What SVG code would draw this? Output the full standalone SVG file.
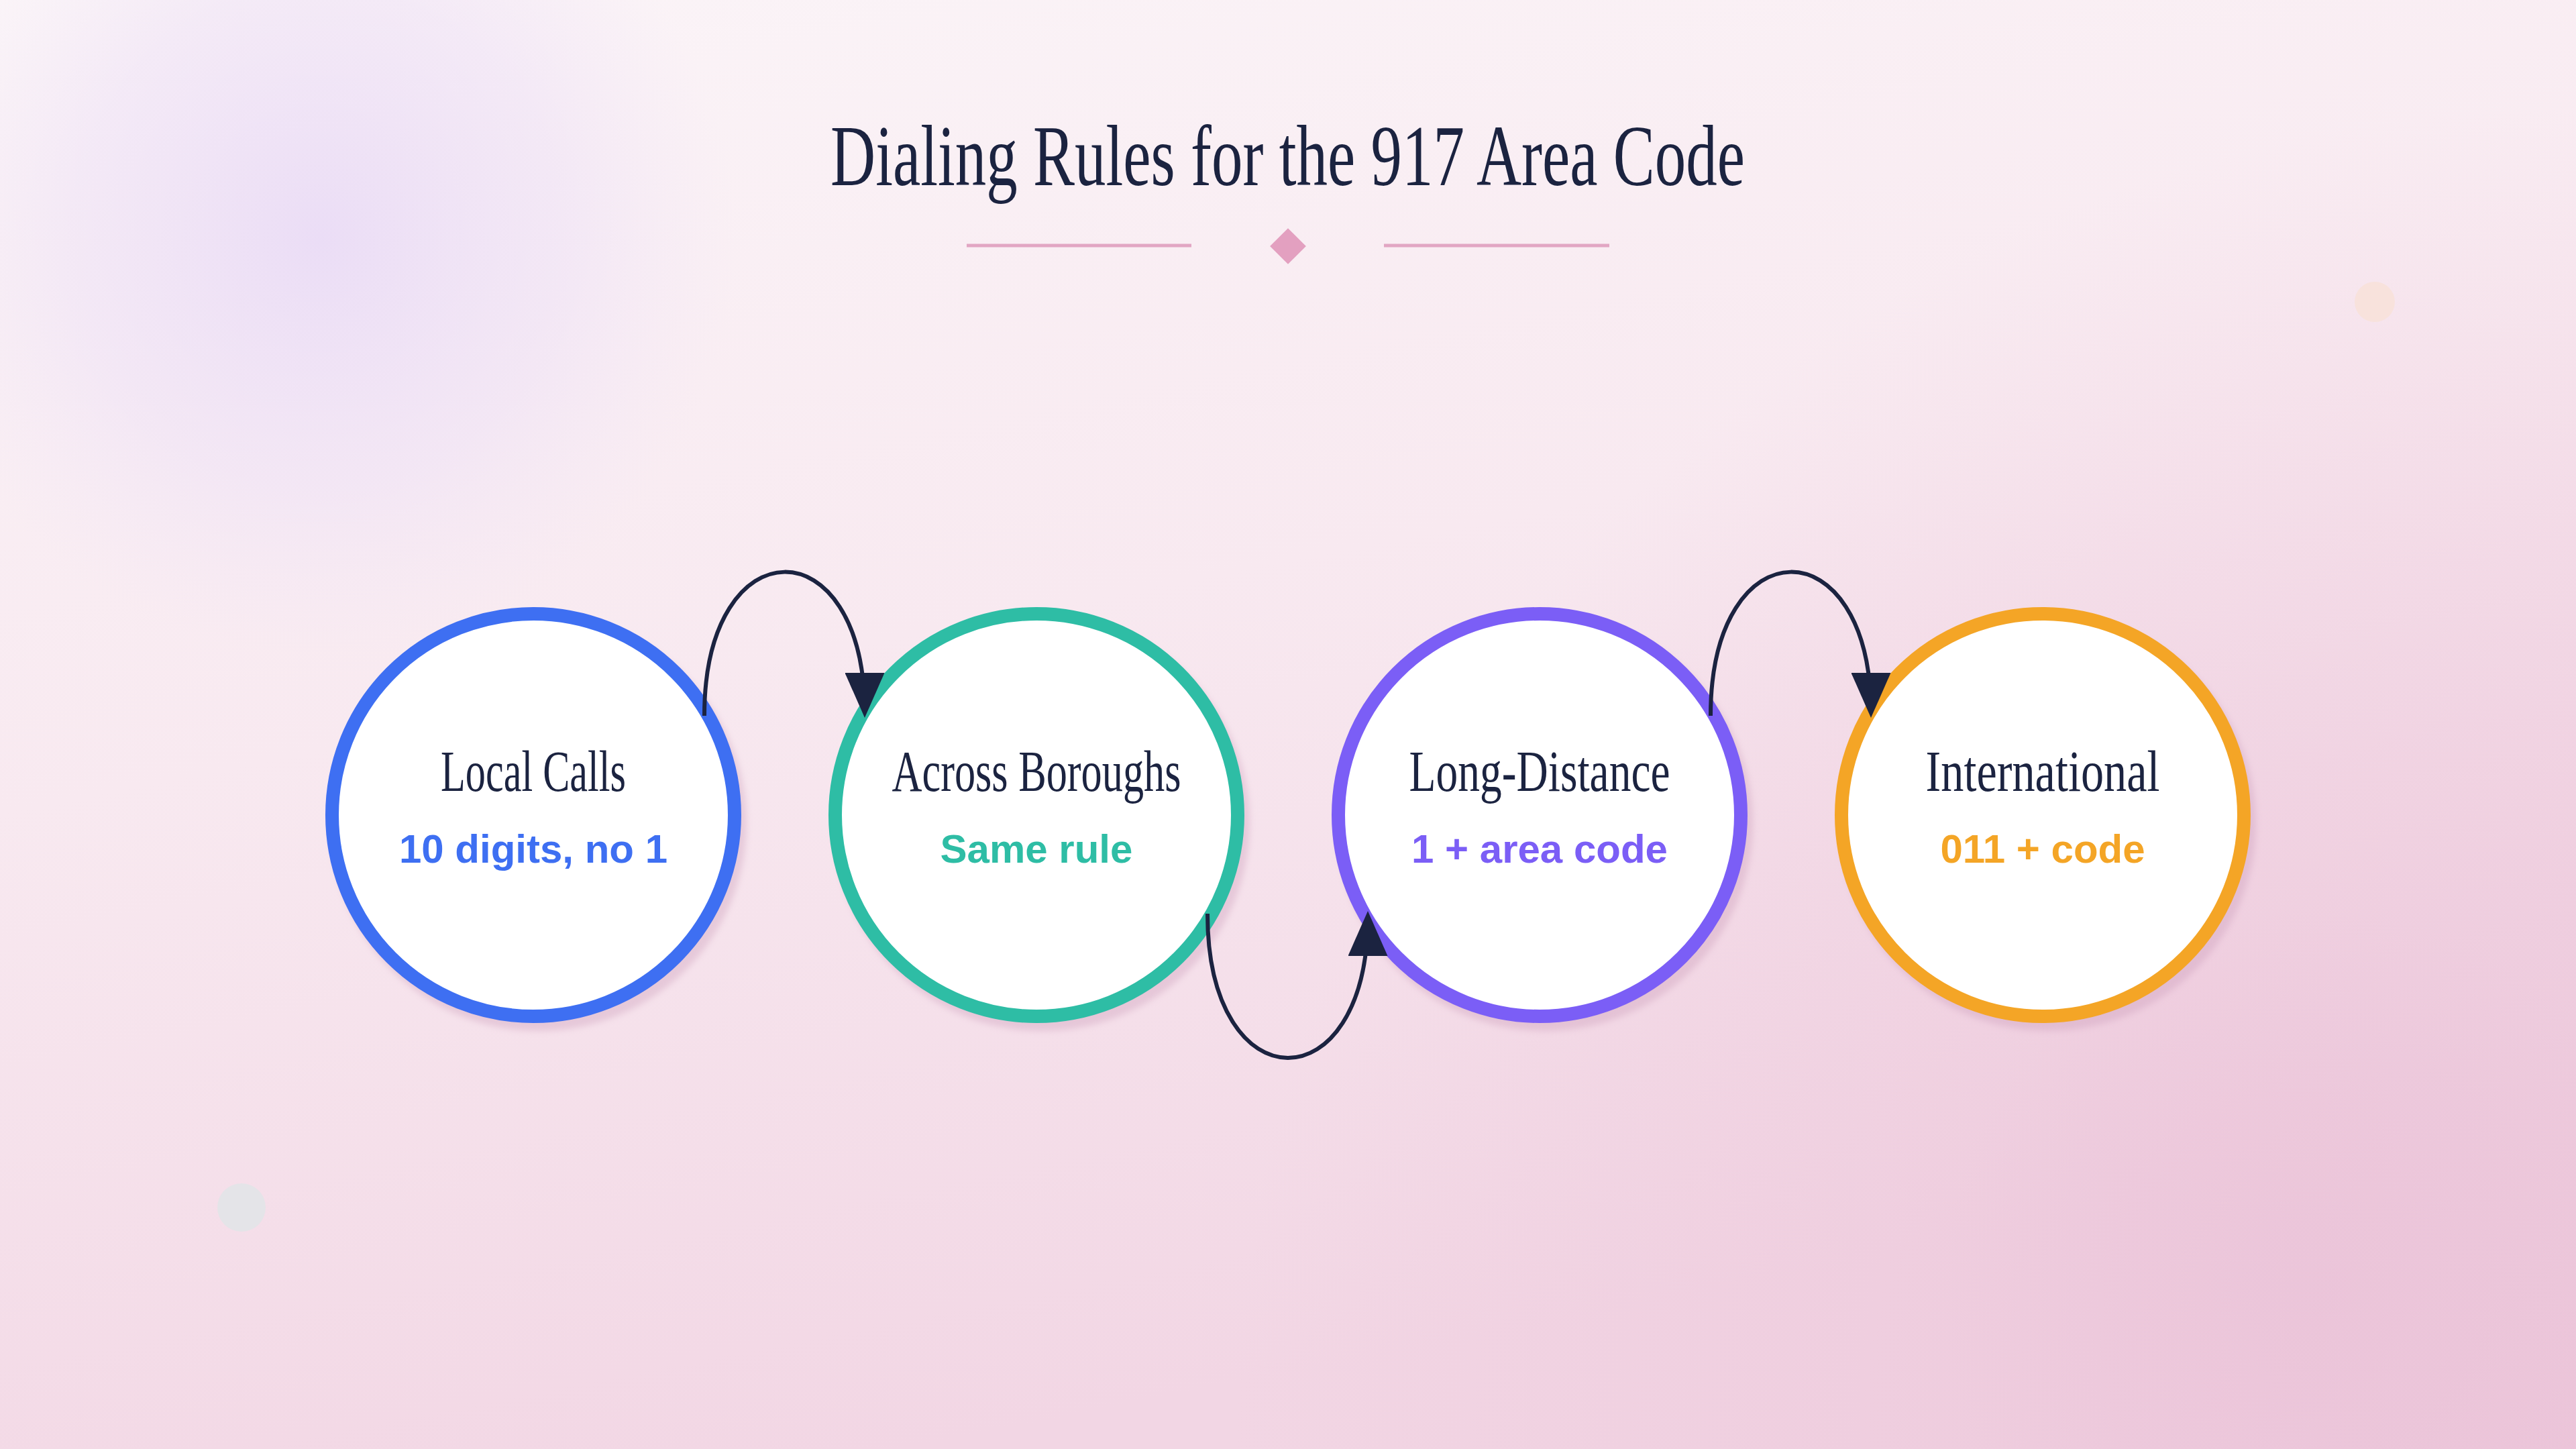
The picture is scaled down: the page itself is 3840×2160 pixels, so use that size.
<svg xmlns="http://www.w3.org/2000/svg" width="3840" height="2160" viewBox="0 0 3840 2160">
  <defs>
    <linearGradient id="bg" x1="0" y1="0" x2="0.35" y2="1">
      <stop offset="0" stop-color="#fbf5f8"/>
      <stop offset="0.5" stop-color="#f8e9f0"/>
      <stop offset="1" stop-color="#f2d6e4"/>
    </linearGradient>
    <radialGradient id="glowBR" cx="3840" cy="2160" r="2000" gradientUnits="userSpaceOnUse">
      <stop offset="0" stop-color="#ebc3d8" stop-opacity="0.9"/>
      <stop offset="1" stop-color="#ebc3d8" stop-opacity="0"/>
    </radialGradient>
    <radialGradient id="glowTL" cx="477" cy="356" r="620" gradientUnits="userSpaceOnUse">
      <stop offset="0" stop-color="#eadcf6" stop-opacity="0.95"/>
      <stop offset="0.6" stop-color="#ede0f6" stop-opacity="0.5"/>
      <stop offset="1" stop-color="#f0e4f6" stop-opacity="0"/>
    </radialGradient>
    <radialGradient id="glowB" cx="3456" cy="1921" r="560" gradientUnits="userSpaceOnUse">
      <stop offset="0" stop-color="#eac2d8" stop-opacity="0.6"/>
      <stop offset="1" stop-color="#eac2d8" stop-opacity="0"/>
    </radialGradient>
    <filter id="shadowBlur" x="-20%" y="-20%" width="140%" height="140%">
      <feGaussianBlur stdDeviation="5"/>
    </filter>
    <marker id="arrow" viewBox="0 0 67 59" refX="59" refY="29.5" markerWidth="67" markerHeight="59" markerUnits="userSpaceOnUse" orient="auto">
      <path d="M0,0 L67,29.5 L0,59 Z" fill="#1b2340"/>
    </marker>
    <style>
      .title { font-family: "Liberation Serif", "DejaVu Serif", serif; font-size: 130px; fill: #1b2340; }
      .nodeTitle { font-family: "Liberation Serif", "DejaVu Serif", serif; font-size: 86px; fill: #1b2340; text-anchor: middle; }
      .nodeSub { font-family: "Liberation Sans", Arial, sans-serif; font-size: 60px; font-weight: bold; text-anchor: middle; }
      .ring { fill: #ffffff; stroke-width: 20; }
      .shadow { fill: #c99ab8; opacity: 0.35; filter: url(#shadowBlur); }
      .conn { fill: none; stroke: #1b2340; stroke-width: 6; marker-end: url(#arrow); }
      .divider { stroke: #e2a6c3; stroke-width: 5; }
    </style>
  </defs>

  <!-- background -->
  <rect x="0" y="0" width="3840" height="2160" fill="url(#bg)"/>
  <rect x="0" y="0" width="3840" height="2160" fill="url(#glowBR)"/>
  <rect x="0" y="0" width="3840" height="2160" fill="url(#glowTL)"/>
  <rect x="0" y="0" width="3840" height="2160" fill="url(#glowB)"/>
  <circle cx="3540" cy="450" r="30" fill="#f8e2dc"/>
  <circle cx="360" cy="1800" r="36" fill="#e4e4e8"/>

  <!-- title -->
  <g id="title">
    <text class="title" x="1238" y="276" textLength="1363" lengthAdjust="spacingAndGlyphs">Dialing Rules for the 917 Area Code</text>
    <line class="divider" x1="1441" y1="366" x2="1776" y2="366"/>
    <line class="divider" x1="2063" y1="366" x2="2399" y2="366"/>
    <rect x="1901" y="348" width="38" height="38" fill="#e3a0c0" transform="rotate(45 1920 367)"/>
  </g>

  <!-- nodes -->
  <g id="node-local">
    <circle class="shadow" cx="803" cy="1227" r="310"/>
    <circle class="ring" cx="795" cy="1215" r="300" stroke="#3e6ff2"/>
    <text class="nodeTitle" x="795" y="1179" textLength="276" lengthAdjust="spacingAndGlyphs">Local Calls</text>
    <text class="nodeSub" x="795" y="1286" fill="#3e6ff2">10 digits, no 1</text>
  </g>
  <g id="node-boroughs">
    <circle class="shadow" cx="1553" cy="1227" r="310"/>
    <circle class="ring" cx="1545" cy="1215" r="300" stroke="#2ebda5"/>
    <text class="nodeTitle" x="1545" y="1179" textLength="431" lengthAdjust="spacingAndGlyphs">Across Boroughs</text>
    <text class="nodeSub" x="1545" y="1286" fill="#2ebda5">Same rule</text>
  </g>
  <g id="node-long">
    <circle class="shadow" cx="2303" cy="1227" r="310"/>
    <circle class="ring" cx="2295" cy="1215" r="300" stroke="#7b5ef6"/>
    <text class="nodeTitle" x="2295" y="1179" textLength="389" lengthAdjust="spacingAndGlyphs">Long-Distance</text>
    <text class="nodeSub" x="2295" y="1286" fill="#7b5ef6">1 + area code</text>
  </g>
  <g id="node-intl">
    <circle class="shadow" cx="3053" cy="1227" r="310"/>
    <circle class="ring" cx="3045" cy="1215" r="300" stroke="#f4a526"/>
    <text class="nodeTitle" x="3045" y="1179" textLength="349" lengthAdjust="spacingAndGlyphs">International</text>
    <text class="nodeSub" x="3045" y="1286" fill="#f4a526">011 + code</text>
  </g>

  <!-- connectors -->
  <g id="connectors">
    <path class="conn" d="M 1050 1067 C 1050 782, 1289 782, 1289 1062"/>
    <path class="conn" d="M 1800 1362 C 1800 1648, 2039 1648, 2039 1366"/>
    <path class="conn" d="M 2550 1067 C 2550 782, 2789 782, 2789 1062"/>
  </g>
</svg>
